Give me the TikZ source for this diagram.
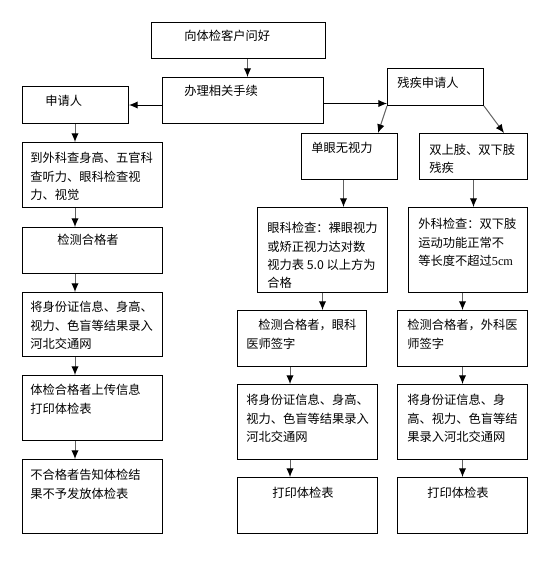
\documentclass[tikz,border=0pt]{standalone}
\usepackage{fontspec}
\setmainfont{Noto Sans CJK SC}
\newfontfamily\latinserif{Liberation Serif}
\usetikzlibrary{arrows.meta}

\begin{document}
\begin{tikzpicture}[x=0.75pt,y=0.75pt,yscale=-1,xscale=1,
		box/.style={draw, line width=0.75pt, rectangle, anchor=north west, inner sep=0pt},
		txt/.style={inner sep=0pt, align=left, font=\fontsize{9.2pt}{13.8pt}\selectfont},
		arrow/.style={draw=black!62, line width=0.75pt, -{Latex[length=6.5pt,width=5.5pt,color=black]}},
		harrow/.style={draw=black, line width=0.75pt, -{Latex[length=6.5pt,width=5.5pt]}}]
	\useasboundingbox (0,0) rectangle (550,568);
	
	%Boxes top
	\node [box, minimum width=130.5pt, minimum height=27pt] (greet) at (151,22) {};
	\node [box, minimum width=120.75pt, minimum height=34.5pt] (handle) at (162,77) {};
	\node [box, minimum width=79.5pt, minimum height=27.75pt] (appl) at (22,86) {};
	\node [box, minimum width=72pt, minimum height=27.75pt] (disab) at (387,68) {};
	%Boxes left column
	\node [box, minimum width=105pt, minimum height=48.75pt] (check) at (22,142) {};
	\node [box, minimum width=105pt, minimum height=34.5pt] (pass) at (22,227) {};
	\node [box, minimum width=105pt, minimum height=48pt] (enter) at (22,292) {};
	\node [box, minimum width=105pt, minimum height=48.75pt] (upload) at (22,375) {};
	\node [box, minimum width=105pt, minimum height=55.5pt] (fail) at (22,459) {};
	%Boxes middle column
	\node [box, minimum width=72pt, minimum height=34.5pt] (eye) at (301,133) {};
	\node [box, minimum width=97.5pt, minimum height=63.75pt] (eyecheck) at (257,207) {};
	\node [box, minimum width=96.75pt, minimum height=42pt] (eyesign) at (237,310) {};
	\node [box, minimum width=105pt, minimum height=56.25pt] (eyeenter) at (237,384) {};
	\node [box, minimum width=105pt, minimum height=42pt] (eyeprint) at (237,477) {};
	%Boxes right column
	\node [box, minimum width=81pt, minimum height=34.5pt] (limb) at (419,133) {};
	\node [box, minimum width=89.25pt, minimum height=63.75pt] (surgcheck) at (408,207) {};
	\node [box, minimum width=97.5pt, minimum height=42pt] (surgsign) at (397,310) {};
	\node [box, minimum width=97.5pt, minimum height=56.25pt] (surgenter) at (397,384) {};
	\node [box, minimum width=97.5pt, minimum height=42pt] (surgprint) at (397,477) {};
	
	\coordinate (lx) at (75,0);
	\coordinate (mx) at (290,0);
	
	%Arrows top
	\draw [arrow] ([xshift=6.75pt]greet.south) -- ([xshift=6.75pt]greet.south |- handle.north);
	\draw [harrow] (appl.east -| handle.west) -- (appl.east);
	\draw [harrow] ([yshift=2.25pt]handle.east) -- ([yshift=2.25pt]handle.east -| disab.west);
	\draw [arrow] (disab.south west) -- ([xshift=-15pt]eye.north east);
	\draw [arrow] (disab.south east) -- ([xshift=-18pt]limb.north east);
	%Arrows left column
	\draw [arrow] (appl.south -| lx) -- (check.north -| lx);
	\draw [arrow] (check.south -| lx) -- (pass.north -| lx);
	\draw [arrow] (pass.south -| lx) -- (enter.north -| lx);
	\draw [arrow] (enter.south -| lx) -- (upload.north -| lx);
	\draw [arrow] (upload.south -| lx) -- (fail.north -| lx);
	%Arrows middle column
	\draw [arrow] ([xshift=-4.5pt]eye.south) -- ([xshift=-4.5pt]eye.south |- eyecheck.north);
	\draw [arrow] (eyecheck.south) -- (eyecheck.south |- eyesign.north);
	\draw [arrow] (eyesign.south -| mx) -- (eyeenter.north -| mx);
	\draw [arrow] (eyeenter.south -| mx) -- (eyeprint.north -| mx);
	%Arrows right column
	\draw [arrow] (limb.south) -- (limb.south |- surgcheck.north);
	\draw [arrow] (surgsign.north |- surgcheck.south) -- (surgsign.north);
	\draw [arrow] (surgsign.south) -- (surgenter.north);
	\draw [arrow] (surgenter.south) -- (surgprint.north);
	
	%Texts
	\node [txt, anchor=west] (tgreet) at (184,36) {向体检客户问好};
	\node [txt, anchor=west] (thandle) at (184,91) {办理相关手续};
	\node [txt, anchor=west] (tappl) at (45,101) {申请人};
	\node [txt, anchor=west] (tdisab) at (397,83) {残疾申请人};
	
	\node [txt, anchor=north west] (tcheck) at (30,152) {到外科查身高、五官科\\查听力、眼科检查视\\力、视觉};
	\node [txt, anchor=west] (tpass) at (57,240) {检测合格者};
	\node [txt, anchor=north west] (tenter) at (30,301) {将身份证信息、身高、\\视力、色盲等结果录入\\河北交通网};
	\node [txt, anchor=north west] (tupload) at (30,384) {体检合格者上传信息\\打印体检表};
	\node [txt, anchor=north west] (tfail) at (30,469) {不合格者告知体检结\\果不予发放体检表};
	
	\node [txt, anchor=west] (teye) at (311,148) {单眼无视力};
	\node [txt, anchor=north west] (teyecheck) at (267,222) {眼科检查：裸眼视力\\或矫正视力达对数\\视力表 5.0 以上方为\\合格};
	\node [txt, anchor=north west] (teyesign) at (246,319) {\hspace*{9pt}检测合格者，眼科\\医师签字};
	\node [txt, anchor=north west] (teyeenter) at (246,394) {将身份证信息、身高、\\视力、色盲等结果录入\\河北交通网};
	\node [txt, anchor=west] (teyeprint) at (272,493) {打印体检表};
	
	\node [txt, anchor=north west] (tlimb) at (429,144) {双上肢、双下肢\\残疾};
	\node [txt, anchor=north west] (tsurgcheck) at (418,218) {外科检查：双下肢\\运动功能正常不\\等长度不超过{\latinserif 5cm}};
	\node [txt, anchor=north west] (tsurgsign) at (407,319) {检测合格者，外科医\\师签字};
	\node [txt, anchor=north west] (tsurgenter) at (407,394) {将身份证信息、身\\高、视力、色盲等结\\果录入河北交通网};
	\node [txt, anchor=west] (tsurgprint) at (427,493) {打印体检表};
\end{tikzpicture}
\end{document}
